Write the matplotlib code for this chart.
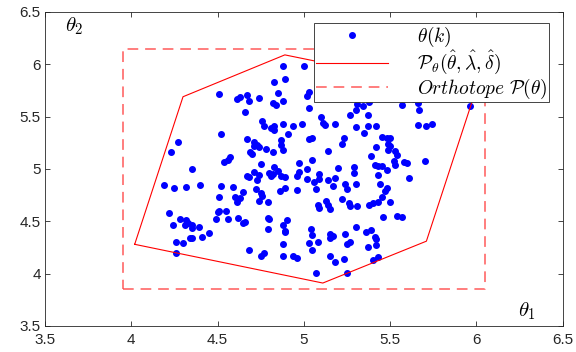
import matplotlib
matplotlib.use("Agg")
import matplotlib.pyplot as plt
import numpy as np

# Sampled parameter pairs theta(k) = (theta_1, theta_2)
theta1 = [4.88, 4.89, 5.00, 4.83, 4.85, 4.51, 4.61, 4.63, 4.67, 4.68, 4.74, 4.82, 4.84, 4.88, 5.02, 5.03,
          5.17, 5.21, 5.23, 5.27, 5.31, 5.34, 5.38, 5.54, 5.57, 5.64, 5.66, 5.67, 5.89, 5.96, 5.03, 5.27,
          5.30, 5.37, 5.37, 5.10, 5.11, 5.12, 5.18, 5.30, 5.35, 5.42, 5.66, 5.71, 5.74, 4.66, 4.76, 4.77,
          4.81, 4.83, 4.83, 4.88, 4.94, 4.99, 4.52, 4.91, 5.05, 5.03, 5.23, 5.45, 5.48, 5.50, 4.67, 4.87,
          4.87, 4.88, 4.71, 4.73, 4.74, 4.71, 5.22, 5.42, 5.49, 5.50, 5.49, 4.27, 4.23, 4.78, 4.82, 4.69,
          4.70, 4.57, 4.56, 4.54, 5.14, 5.39, 5.53, 5.54, 5.52, 5.53, 5.58, 5.60, 5.70, 5.05, 4.75, 4.97,
          4.83, 4.85, 4.35, 5.02, 5.20, 5.29, 5.41, 5.43, 5.45, 5.43, 5.48, 5.29, 4.97, 4.80, 4.81, 4.82,
          4.74, 4.71, 4.67, 4.68, 4.73, 4.87, 4.89, 4.96, 5.02, 5.06, 5.09, 5.09, 5.14, 5.18, 5.24, 5.30,
          5.44, 5.48, 5.47, 5.61, 4.19, 4.25, 4.32, 4.40, 4.52, 4.59, 4.65, 4.72, 4.75, 4.76, 4.89, 4.96,
          4.86, 5.07, 5.17, 5.25, 4.51, 4.60, 4.63, 4.61, 4.74, 4.79, 5.08, 5.09, 5.13, 5.14, 5.15, 5.26,
          5.27, 5.31, 5.38, 5.40, 5.43, 5.45, 5.50, 5.22, 4.50, 4.51, 4.55, 4.22, 4.24, 4.28, 4.32, 4.33,
          4.31, 4.35, 4.35, 4.39, 4.34, 4.35, 4.41, 4.45, 4.49, 4.56, 4.62, 4.65, 4.66, 4.79, 4.80, 4.90,
          4.79, 4.89, 4.89, 4.88, 5.04, 5.05, 5.03, 5.08, 5.15, 5.15, 5.17, 5.24, 5.30, 5.25, 5.27, 5.36,
          5.39, 5.41, 5.42, 5.42, 5.37, 5.46, 5.54, 5.57, 4.26, 4.30, 4.26, 4.68, 4.75, 4.77, 4.88, 4.88,
          4.94, 4.96, 5.05, 5.15, 5.18, 5.23, 5.40, 5.43, 5.07, 5.25]
theta2 = [5.98, 5.86, 5.98, 5.83, 5.73, 5.72, 5.67, 5.69, 5.71, 5.65, 5.68, 5.63, 5.61, 5.65, 5.70, 5.74,
          5.69, 5.68, 5.71, 5.71, 5.62, 5.60, 5.64, 5.70, 5.61, 5.67, 5.63, 5.56, 5.71, 5.60, 5.58, 5.52,
          5.56, 5.52, 5.41, 5.50, 5.44, 5.42, 5.43, 5.40, 5.34, 5.41, 5.42, 5.41, 5.43, 5.54, 5.46, 5.41,
          5.39, 5.41, 5.37, 5.43, 5.41, 5.43, 5.33, 5.33, 5.30, 5.29, 5.30, 5.31, 5.30, 5.30, 5.29, 5.28,
          5.23, 5.18, 5.26, 5.23, 5.21, 5.22, 5.24, 5.21, 5.24, 5.22, 5.18, 5.26, 5.16, 5.19, 5.16, 5.16,
          5.14, 5.11, 5.09, 5.07, 5.17, 5.12, 5.17, 5.13, 5.08, 5.04, 5.07, 5.06, 5.08, 5.09, 5.05, 5.06,
          5.02, 4.98, 5.00, 5.00, 5.01, 5.02, 5.04, 5.03, 5.03, 4.94, 4.99, 4.96, 4.97, 4.96, 4.93, 4.95,
          4.94, 4.97, 4.93, 4.92, 4.89, 4.93, 4.92, 4.93, 4.90, 4.88, 4.95, 4.90, 4.89, 4.91, 4.86, 4.86,
          4.86, 4.82, 4.79, 4.91, 4.85, 4.82, 4.83, 4.85, 4.84, 4.83, 4.78, 4.81, 4.77, 4.74, 4.82, 4.80,
          4.79, 4.81, 4.84, 4.81, 4.73, 4.73, 4.72, 4.68, 4.69, 4.68, 4.66, 4.63, 4.69, 4.66, 4.62, 4.67,
          4.65, 4.65, 4.66, 4.67, 4.68, 4.73, 4.68, 4.71, 4.59, 4.60, 4.60, 4.58, 4.46, 4.52, 4.51, 4.48,
          4.46, 4.46, 4.44, 4.45, 4.34, 4.34, 4.35, 4.39, 4.52, 4.52, 4.53, 4.48, 4.49, 4.53, 4.52, 4.51,
          4.43, 4.40, 4.41, 4.46, 4.43, 4.37, 4.29, 4.30, 4.34, 4.38, 4.36, 4.38, 4.45, 4.28, 4.30, 4.40,
          4.42, 4.35, 4.33, 4.27, 4.25, 4.54, 4.55, 4.54, 4.30, 4.29, 4.20, 4.23, 4.17, 4.20, 4.28, 4.17,
          4.17, 4.15, 4.23, 4.17, 4.11, 4.14, 4.13, 4.16, 4.01, 4.01]

# Vertices of the estimated polytope P_theta (closed loop)
poly_t1 = [4.02, 4.30, 4.89, 5.99, 5.71, 5.11, 4.02]
poly_t2 = [4.28, 5.69, 6.09, 5.72, 4.31, 3.91, 4.28]

# Orthotope bounds
ortho_t1 = [3.95, 6.05]
ortho_t2 = [3.85, 6.15]

plt.rcParams["mathtext.fontset"] = "cm"
plt.rcParams["font.family"] = ["Liberation Sans", "DejaVu Sans"]

fig = plt.figure(figsize=(5.76, 3.52), dpi=100)
ax = fig.add_axes([0.078, 0.074, 0.899, 0.892])

ax.plot(theta1, theta2, linestyle="none", marker="o", markersize=4,
        color="#0000ff", label=r"$\theta(k)$")
ax.plot(poly_t1, poly_t2, color="#ff0000", linewidth=0.8,
        label=r"$\mathcal{P}_\theta(\hat{\theta},\hat{\lambda},\hat{\delta})$")
rx = [ortho_t1[0], ortho_t1[1], ortho_t1[1], ortho_t1[0], ortho_t1[0]]
ry = [ortho_t2[0], ortho_t2[0], ortho_t2[1], ortho_t2[1], ortho_t2[0]]
ax.plot(rx, ry, color="#ff5a5a", linewidth=1.1, dashes=(7, 4.5),
        label=r"$Orthotope\ \mathcal{P}(\theta)$")

ax.set_xlim(3.5, 6.5)
ax.set_ylim(3.5, 6.5)
ax.set_xticks(np.arange(3.5, 6.51, 0.5))
ax.set_yticks(np.arange(3.5, 6.51, 0.5))
ax.set_xticklabels(["3.5", "4", "4.5", "5", "5.5", "6", "6.5"])
ax.set_yticklabels(["3.5", "4", "4.5", "5", "5.5", "6", "6.5"])
ax.tick_params(direction="in", top=True, right=True, length=3.5, width=0.6,
               labelsize=11, colors="#262626")
ax.tick_params(axis="x", pad=5)
ax.tick_params(axis="y", pad=3)
for s in ax.spines.values():
    s.set_color("#262626")
    s.set_linewidth(0.6)

ax.text(3.67, 6.36, r"$\theta_2$", fontsize=15, ha="center", va="center")
ax.text(6.29, 3.64, r"$\theta_1$", fontsize=15, ha="center", va="center")

leg = ax.legend(loc="upper right", bbox_to_anchor=(0.973, 0.966), borderaxespad=0,
                fontsize=14, handlelength=3.7, fancybox=False, framealpha=1,
                edgecolor="#262626", borderpad=0.1, labelspacing=0.0,
                handletextpad=1.5)
leg.get_frame().set_linewidth(0.6)

fig.savefig("out.png", dpi=100)
